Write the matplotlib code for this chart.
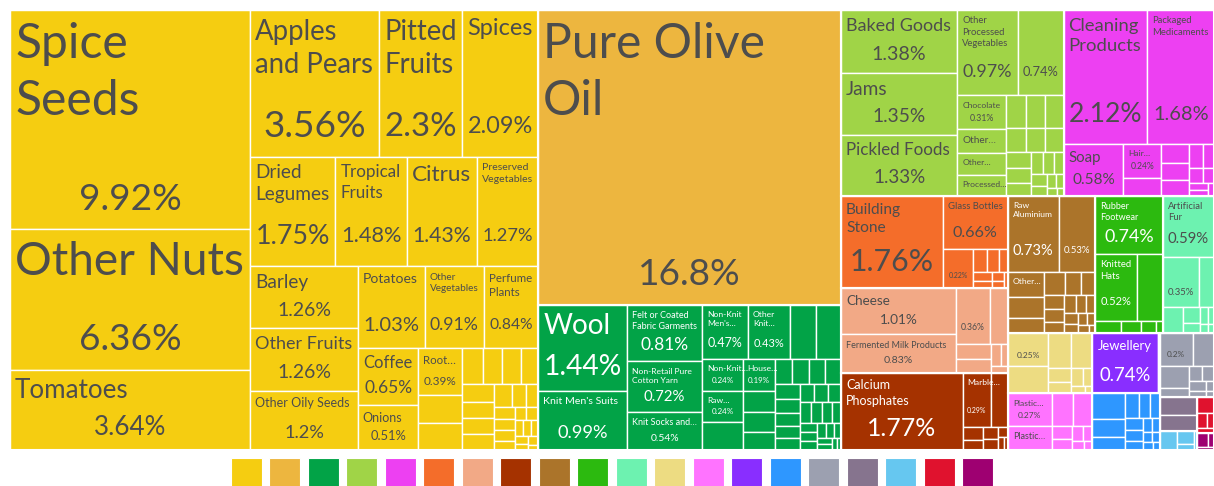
import matplotlib
matplotlib.use("Agg")
import matplotlib.pyplot as plt
from matplotlib.patches import Rectangle
from matplotlib.font_manager import FontProperties
import matplotlib.colors as mcolors

# ---------------- data ----------------
vegetable_labels = ["Spice\nSeeds", "Other Nuts", "Tomatoes", "Apples\nand Pears", "Pitted\nFruits", "Spices",
                    "Dried\nLegumes", "Tropical\nFruits", "Citrus", "Preserved\nVegetables", "Barley",
                    "Other Fruits", "Other Oily Seeds", "Potatoes", "Other\nVegetables", "Perfume\nPlants",
                    "Coffee", "Onions", "Root…"]
vegetable_values = [9.92, 6.36, 3.64, 3.56, 2.3, 2.09, 1.75, 1.48, 1.43, 1.27, 1.26, 1.26, 1.2, 1.03, 0.91,
                    0.84, 0.65, 0.51, 0.39, 0.23, 0.22, 0.145, 0.13, 0.125, 0.12, 0.105, 0.1, 0.1, 0.095,
                    0.075, 0.06, 0.05, 0.045, 0.045, 0.04, 0.035, 0.03, 0.03, 0.025, 0.025, 0.02, 0.02,
                    0.015, 0.015, 0.01]

fats_labels = ["Pure Olive\nOil"]
fats_values = [16.8]

textile_labels = ["Wool", "Knit Men's Suits", "Felt or Coated\nFabric Garments", "Non-Retail Pure\nCotton Yarn",
                  "Knit Socks and…", "Non-Knit\nMen's…", "Other\nKnit…", None, None, "Non-Knit…", "Raw…",
                  None, "House…"]
textile_values = [1.44, 0.99, 0.81, 0.72, 0.54, 0.47, 0.43, 0.27, 0.26, 0.24, 0.24, 0.21, 0.19, 0.13, 0.12,
                  0.11, 0.08, 0.078, 0.076, 0.074, 0.07, 0.065, 0.062, 0.06, 0.055, 0.05, 0.048, 0.045,
                  0.042, 0.04, 0.038, 0.035, 0.032, 0.03, 0.028, 0.025, 0.022, 0.02, 0.018, 0.015, 0.012, 0.01]

foodstuff_labels = ["Baked Goods", "Jams", "Pickled Foods", "Other\nProcessed\nVegetables", "", "Chocolate",
                    "Other…", "Other…", "Processed…"]
foodstuff_values = [1.38, 1.35, 1.33, 0.97, 0.74, 0.31, 0.22, 0.2, 0.19, 0.12, 0.118, 0.115, 0.088, 0.086,
                    0.084, 0.075, 0.07, 0.06, 0.05, 0.045, 0.04, 0.035, 0.03, 0.025, 0.02, 0.015, 0.01]

chemical_labels = ["Cleaning\nProducts", "Packaged\nMedicaments", "Soap", "Hair…"]
chemical_values = [2.12, 1.68, 0.58, 0.24, 0.13, 0.1, 0.09, 0.08, 0.06, 0.05, 0.04, 0.03, 0.025, 0.02, 0.015]

stone_labels = ["Building\nStone", "Glass Bottles", ""]
stone_values = [1.76, 0.66, 0.22, 0.06, 0.05, 0.04, 0.03, 0.025, 0.02, 0.015, 0.01]

animal_labels = ["Cheese", "Fermented Milk Products", ""]
animal_values = [1.01, 0.83, 0.36, 0.19, 0.1, 0.09, 0.04, 0.03, 0.02]

mineral_labels = ["Calcium\nPhosphates", "Marble…"]
mineral_values = [1.77, 0.29, 0.17, 0.05, 0.04, 0.035, 0.03, 0.02, 0.015, 0.01]

metal_labels = ["Raw\nAluminium", "", "Other…"]
metal_values = [0.73, 0.53, 0.17, 0.14, 0.1, 0.09, 0.07, 0.06, 0.055, 0.05, 0.045, 0.04, 0.035, 0.03, 0.03,
                0.025, 0.02, 0.02, 0.015, 0.01]

footwear_labels = ["Rubber\nFootwear", "Knitted\nHats"]
footwear_values = [0.74, 0.52, 0.33, 0.06, 0.045, 0.035, 0.015]

hides_labels = ["Artificial\nFur", ""]
hides_values = [0.59, 0.35, 0.14, 0.1, 0.05, 0.03, 0.025, 0.02, 0.015, 0.01]

paper_labels = [""]
paper_values = [0.25, 0.21, 0.15, 0.14, 0.06, 0.05, 0.04, 0.03, 0.02, 0.01]

plastic_labels = ["Plastic…", "Plastic…"]
plastic_values = [0.27, 0.2, 0.13, 0.12, 0.05, 0.04, 0.03, 0.025, 0.02, 0.015]

precious_labels = ["Jewellery"]
precious_values = [0.74, 0.015, 0.01]

machine_labels = []
machine_values = [0.16, 0.11, 0.08, 0.065, 0.05, 0.045, 0.04, 0.035, 0.03, 0.025, 0.02, 0.02, 0.015, 0.015, 0.01]

instrument_labels = [""]
instrument_values = [0.2, 0.13, 0.12, 0.05, 0.04, 0.035, 0.03, 0.02, 0.015, 0.01]

misc_labels = []
misc_values = [0.125, 0.115]

transport_labels = []
transport_values = [0.06, 0.04, 0.02, 0.01]

arms_labels = []
arms_values = [0.05, 0.03, 0.02, 0.015]

art_labels = []
art_values = [0.03, 0.015, 0.01]

group_colors = ["#F5CD11", "#EDB63F", "#02A347", "#A0D447", "#ED40F2", "#F46D2A", "#F2A986", "#A53200",
                "#AB742A", "#2CBA0F", "#6DF2B0", "#EDDC82", "#FF73FF", "#892EFF", "#2E97FF", "#9CA0B0",
                "#86748E", "#66C7F0", "#E0122E", "#9E0071"]

groups = [
    (vegetable_labels, vegetable_values), (fats_labels, fats_values), (textile_labels, textile_values),
    (foodstuff_labels, foodstuff_values), (chemical_labels, chemical_values), (stone_labels, stone_values),
    (animal_labels, animal_values), (mineral_labels, mineral_values), (metal_labels, metal_values),
    (footwear_labels, footwear_values), (hides_labels, hides_values), (paper_labels, paper_values),
    (plastic_labels, plastic_values), (precious_labels, precious_values), (machine_labels, machine_values),
    (instrument_labels, instrument_values), (misc_labels, misc_values), (transport_labels, transport_values),
    (arms_labels, arms_values), (art_labels, art_values),
]

# ---------------- layout (d3 squarify) ----------------
PHI = (1 + 5 ** 0.5) / 2


def squarify(values, x0, y0, x1, y1, ratio=PHI):
    n = len(values)
    rects = [None] * n
    value = float(sum(values))
    i0 = i1 = 0
    while i0 < n:
        dx, dy = x1 - x0, y1 - y0
        sumv = values[i1]
        i1 += 1
        minv = maxv = sumv
        alpha = max(dy / dx, dx / dy) / (value * ratio)
        beta = sumv * sumv * alpha
        minratio = max(maxv / beta, beta / minv)
        while i1 < n:
            nv = values[i1]
            sumv += nv
            minv = min(minv, nv)
            maxv = max(maxv, nv)
            beta = sumv * sumv * alpha
            newratio = max(maxv / beta, beta / minv)
            if newratio > minratio:
                sumv -= nv
                break
            minratio = newratio
            i1 += 1
        if dx < dy:
            ny = y0 + dy * sumv / value if i1 < n else y1
            xx = x0
            for i in range(i0, i1):
                w = (x1 - x0) * values[i] / sumv
                rects[i] = (xx, y0, xx + w, ny)
                xx += w
            y0 = ny
        else:
            nx = x0 + dx * sumv / value if i1 < n else x1
            yy = y0
            for i in range(i0, i1):
                hh = (y1 - y0) * values[i] / sumv
                rects[i] = (x0, yy, nx, yy + hh)
                yy += hh
            x0 = nx
        value -= sumv
        i0 = i1
    return rects


W_PX, H_PX = 1214, 486
fig = plt.figure(figsize=(W_PX / 100, H_PX / 100), dpi=100)
ax = fig.add_axes([0, 0, 1, 1])
ax.set_xlim(0, W_PX)
ax.set_ylim(H_PX, 0)
ax.axis("off")
renderer = fig.canvas.get_renderer()

FONT = "Lato"
PX2PT = 72 / 100
LS = 1.36


def text_w(s, px):
    fp = FontProperties(family=FONT, size=px * PX2PT)
    return renderer.get_text_width_height_descent(s, fp, ismath=False)[0]


def fit(lines, W, H, smax, smin, ls=1.2):
    s = smax
    while s > smin:
        if max(text_w(l, s) for l in lines) <= W and (len(lines) * ls * s + 0.1 * s) <= H:
            return s
        s -= 0.5
    return smin


def text_color(c):
    r, g, b = mcolors.to_rgb(c)
    lum = 0.299 * r + 0.587 * g + 0.114 * b
    return "white" if lum < 0.51 else "#4d4d4d"


group_sums = [sum(v) for _, v in groups]
order = sorted(range(len(groups)), key=lambda i: -group_sums[i])
g_rects = squarify([group_sums[i] for i in order], 10, 10, 1214, 450)

PAD = 5
for gi, grect in zip(order, g_rects):
    labels, values = groups[gi]
    color = group_colors[gi]
    tc = text_color(color)
    labs = list(labels) + [None] * (len(values) - len(labels))
    idx = sorted(range(len(values)), key=lambda i: -values[i])
    gx0, gy0, gx1, gy1 = grect
    rects = squarify([values[i] for i in idx], gx0, gy0, gx1, gy1)
    for i, (x0, y0, x1, y1) in zip(idx, rects):
        ax.add_patch(Rectangle((x0, y0), x1 - x0, y1 - y0, facecolor=color, edgecolor="white", lw=1.0))
        lab = labs[i]
        if lab is None:
            continue
        w, h = x1 - x0, y1 - y0
        Wt = w - 2 * PAD
        sh = max(min(50, (h - 2 * PAD) * 0.5), 8)
        box = sh + 2 * PAD
        show_share = h >= 27
        share = f"{values[i]:g}%"
        if show_share:
            ss = fit([share], Wt, 1e9, 0.74 * sh, 7)
            ax.text((x0 + x1) / 2, y1 - box / 2, share, ha="center", va="center",
                    fontsize=ss * PX2PT, family=FONT, color=tc)
        if lab:
            lines = lab.split("\n")
            Hn = h - (sh if show_share else 0) - 2 * PAD
            ns = fit(lines, Wt, Hn, 48, 8.5, ls=1.25)
            ax.text(x0 + PAD, y0 + PAD + 0.14 * ns, lab, ha="left", va="top", fontsize=ns * PX2PT,
                    family=FONT, color=tc, linespacing=LS)
    ax.add_patch(Rectangle((gx0, gy0), gx1 - gx0, gy1 - gy0, facecolor="none", edgecolor="white", lw=1.5))

# ---------------- legend ----------------
n = len(group_colors)
sw, gap = 31, 7.5
total = n * sw + (n - 1) * gap
start = W_PX / 2 + 5 - total / 2
for k, c in enumerate(group_colors):
    ax.add_patch(Rectangle((start + k * (sw + gap), 458), sw, 32, facecolor=c, edgecolor="white", lw=0.8))

fig.savefig("out.png", dpi=100)
